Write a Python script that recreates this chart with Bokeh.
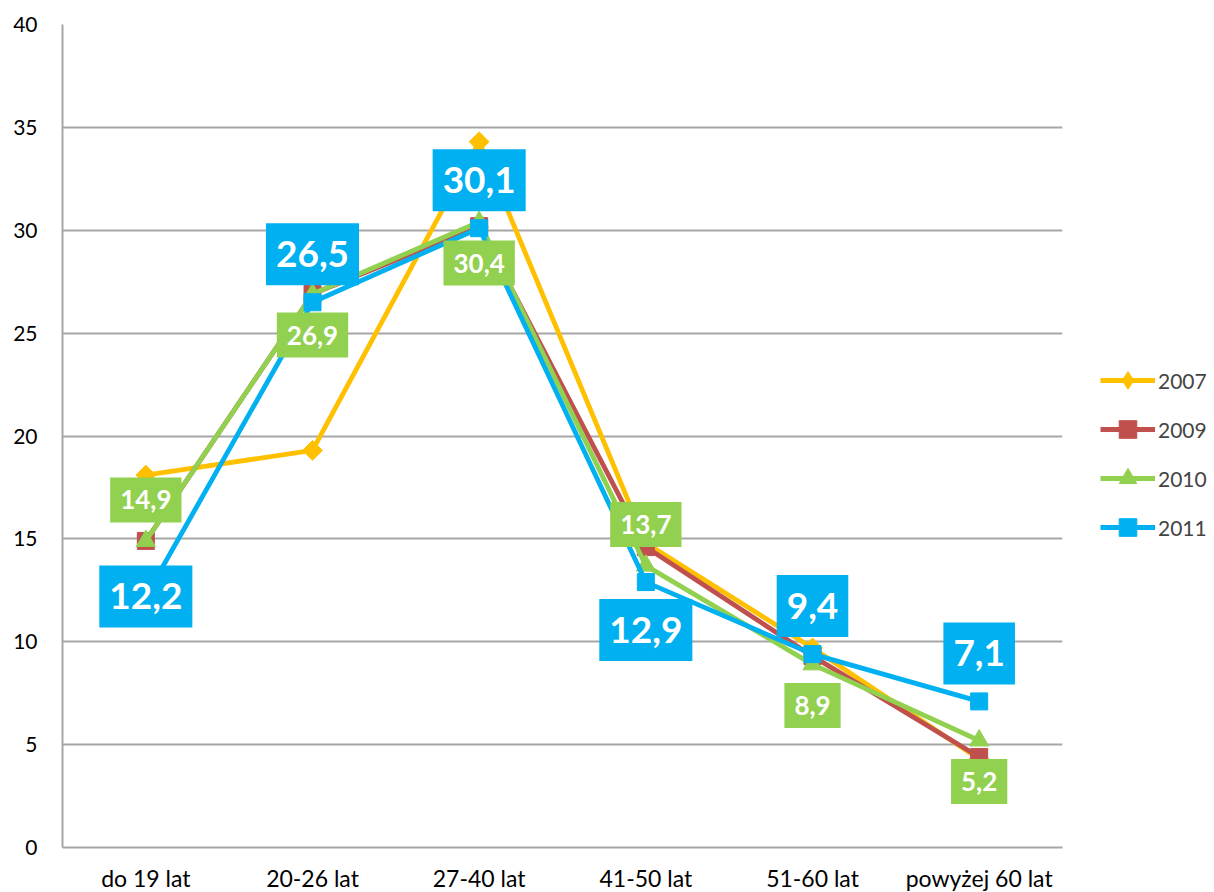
import math
from bokeh.plotting import figure
from bokeh.models import Label, Legend, LegendItem, FixedTicker
from bokeh.embed import file_html
from bokeh.resources import INLINE

# ---- data ----
categories = ["do 19 lat", "20-26 lat", "27-40 lat", "41-50 lat", "51-60 lat", "powyżej 60 lat"]
years = ["2007", "2009", "2010", "2011"]
v2007 = [18.1, 19.3, 34.3, 14.8, 9.7, 4.3]
v2009 = [14.9, 26.9, 30.2, 14.6, 9.3, 4.4]
v2010 = [14.9, 26.9, 30.4, 13.7, 8.9, 5.2]
v2011 = [12.2, 26.5, 30.1, 12.9, 9.4, 7.1]
y_ticks = [0, 5, 10, 15, 20, 25, 30, 35, 40]

# ---- styles ----
colors = {"2007": "#FFC000", "2009": "#C0504D", "2010": "#92D050", "2011": "#00B0F0"}
markers = {"2007": ("square", 14, math.pi / 4), "2009": ("square", 17, 0),
           "2010": ("triangle", 19, 0), "2011": ("square", 17, 0)}
legend_markers = {"2007": "diamond", "2009": "square", "2010": "triangle", "2011": "square"}
series = {"2007": v2007, "2009": v2009, "2010": v2010, "2011": v2011}
place_2010 = ["above", "below", "below", "above", "below", "below"]
place_2011 = ["center", "above", "above", "below", "above", "above"]

FONT = "Lato"
GRID = "#a6a6a6"

p = figure(x_range=categories, y_range=(0, 40),
           frame_width=1000, frame_height=823,
           min_border_left=62, min_border_right=152,
           min_border_top=24, min_border_bottom=45,
           output_backend="svg", toolbar_location=None)
p.outline_line_color = None
p.background_fill_color = "white"
p.border_fill_color = "white"
p.x_range.range_padding = 0

p.xgrid.grid_line_color = None
p.ygrid.grid_line_color = GRID
p.ygrid.grid_line_width = 2
p.yaxis.ticker = FixedTicker(ticks=y_ticks)

for ax in (p.xaxis[0], p.yaxis[0]):
    ax.axis_line_color = GRID
    ax.axis_line_width = 2
    ax.major_tick_line_color = None
    ax.minor_tick_line_color = None
    ax.major_tick_out = 0
    ax.major_tick_in = 0
    ax.minor_tick_out = 0
    ax.major_label_text_font = FONT
    ax.major_label_text_color = "#000000"
p.yaxis.major_label_text_font_size = "21px"
p.xaxis.major_label_text_font_size = "23px"
p.yaxis.major_label_standoff = 25
p.xaxis.major_label_standoff = 16

items = []
for yr in years:
    c = colors[yr]
    m, s, ang = markers[yr]
    lr = p.line(categories, series[yr], line_color=c, line_width=4.8)
    p.scatter(categories, series[yr], marker=m, size=s, angle=ang,
              fill_color=c, line_color=c)
    # marker used only for the legend swatch (no plotted points)
    lg = p.scatter(categories[:1], [float("nan")], marker=legend_markers[yr],
                   fill_color=c, line_color=c)
    items.append(LegendItem(label=yr, renderers=[lr, lg]))

legend = Legend(items=items, location=(38, 298), margin=0, padding=0,
                ncols=1, glyph_width=55, glyph_height=44, spacing=5,
                label_standoff=3, label_text_font=FONT,
                label_text_font_size="21px", label_height=20,
                border_line_color=None, background_fill_alpha=0)
p.add_layout(legend, "right")


def fmt(v):
    return f"{v:.1f}".replace(".", ",")


def add_labels(vals, places, color, size, off, pad):
    # factor i sits at synthetic coordinate i + 0.5 on the categorical range
    for i, (v, pl) in enumerate(zip(vals, places)):
        yo = {"above": off, "below": -off, "center": 0}[pl]
        p.add_layout(Label(x=i + 0.5, y=v, text=fmt(v), y_offset=yo,
                           text_align="center", text_baseline="middle",
                           text_font=FONT, text_font_style="bold",
                           text_font_size=size, text_color="white",
                           background_fill_color=color, padding=pad))


add_labels(v2010, place_2010, colors["2010"], "26px", 41, (10, 13))
add_labels(v2011, place_2011, colors["2011"], "37px", 48, (10, 18))

open("out.html", "w").write(file_html(p, INLINE))
